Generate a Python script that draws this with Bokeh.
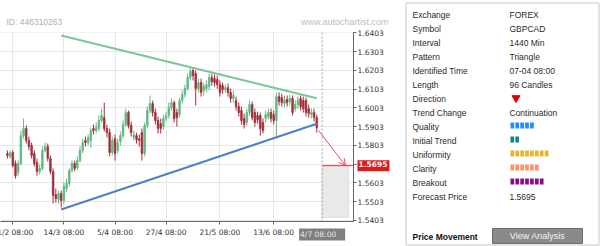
from bokeh.plotting import figure
from bokeh.layouts import row
from bokeh.models import Range1d, FixedTicker, Span, Label, Arrow, OpenHead, ColumnDataSource
from bokeh.core.properties import value
from bokeh.embed import file_html
from bokeh.resources import INLINE

# ---------------- data ----------------
opens = [1.5760,1.5744,1.5765,1.5706,1.5658,1.5706,1.5855,1.5893,1.5829,1.5802,
         1.5760,1.5712,1.5664,1.5680,1.5776,1.5797,1.5733,1.5664,1.5541,1.5514,
         1.5546,1.5509,1.5573,1.5600,1.5669,1.5706,1.5685,1.5722,1.5776,1.5829,
         1.5818,1.5829,1.5893,1.5882,1.5893,1.5936,1.5951,1.5893,1.5871,1.5765,
         1.5839,1.5776,1.5823,1.5855,1.5914,1.5978,1.5909,1.5845,1.5855,1.5839,
         1.5871,1.5760,1.5909,1.5989,1.6026,1.5978,1.5936,1.5919,1.5903,1.5946,
         1.5962,1.6005,1.6031,1.5978,1.5967,1.6042,1.6074,1.6106,1.6165,1.6202,
         1.6186,1.6106,1.6138,1.6096,1.6106,1.6117,1.6165,1.6159,1.6154,1.6127,
         1.6122,1.6101,1.6111,1.6085,1.6053,1.6042,1.6010,1.5989,1.5946,1.5925,
         1.5978,1.6021,1.5978,1.5962,1.5962,1.5925,1.5946,1.5957,1.5978,1.5967,
         1.5936,1.6063,1.6058,1.6026,1.6047,1.6037,1.6053,1.5999,1.6021,1.6053,
         1.6042,1.6042,1.5999,1.5967,1.5978,1.5951]
highs = [1.5776,1.5776,1.5776,1.5722,1.5722,1.5882,1.5946,1.5909,1.5850,1.5818,
         1.5776,1.5733,1.5701,1.5797,1.5818,1.5813,1.5749,1.5680,1.5573,1.5562,
         1.5562,1.5605,1.5626,1.5680,1.5722,1.5722,1.5744,1.5797,1.5839,1.5850,
         1.5861,1.5898,1.5914,1.5925,1.5962,1.5999,1.6031,1.5914,1.5893,1.5850,
         1.5861,1.5839,1.5877,1.5936,1.5999,1.5989,1.5930,1.5882,1.5871,1.5861,
         1.5893,1.5925,1.6010,1.6069,1.6042,1.5999,1.5957,1.5946,1.5967,1.5983,
         1.6031,1.6053,1.6042,1.5999,1.6058,1.6096,1.6127,1.6186,1.6218,1.6218,
         1.6202,1.6159,1.6159,1.6138,1.6149,1.6186,1.6186,1.6181,1.6175,1.6149,
         1.6138,1.6127,1.6133,1.6106,1.6096,1.6063,1.6031,1.6010,1.5973,1.5999,
         1.6042,1.6037,1.5999,1.5983,1.5978,1.5946,1.5989,1.5999,1.5999,1.5989,
         1.6085,1.6085,1.6079,1.6069,1.6069,1.6074,1.6069,1.6042,1.6063,1.6069,
         1.6063,1.6058,1.6021,1.5999,1.5999,1.5967]
lows = [1.5733,1.5733,1.5685,1.5626,1.5637,1.5696,1.5839,1.5813,1.5776,1.5733,
        1.5690,1.5642,1.5648,1.5669,1.5765,1.5717,1.5648,1.5493,1.5498,1.5493,
        1.5472,1.5488,1.5552,1.5584,1.5658,1.5664,1.5669,1.5712,1.5760,1.5797,
        1.5802,1.5791,1.5861,1.5866,1.5877,1.5925,1.5877,1.5845,1.5744,1.5749,
        1.5722,1.5760,1.5802,1.5839,1.5903,1.5893,1.5850,1.5829,1.5813,1.5797,
        1.5722,1.5744,1.5893,1.5973,1.5957,1.5914,1.5866,1.5866,1.5887,1.5930,
        1.5946,1.5989,1.5925,1.5903,1.5951,1.6026,1.6058,1.6096,1.6149,1.6149,
        1.6015,1.6085,1.6063,1.6069,1.6085,1.6096,1.6122,1.6117,1.6106,1.6063,
        1.6079,1.6085,1.6063,1.6031,1.6031,1.5989,1.5957,1.5914,1.5893,1.5909,
        1.5962,1.5936,1.5903,1.5919,1.5855,1.5866,1.5925,1.5941,1.5925,1.5914,
        1.5845,1.6015,1.6010,1.6005,1.6010,1.6015,1.5962,1.5983,1.5999,1.5989,
        1.5978,1.5957,1.5951,1.5946,1.5930,1.5871]
closes = [1.5749,1.5765,1.5696,1.5642,1.5706,1.5855,1.5893,1.5829,1.5797,1.5749,
          1.5706,1.5664,1.5680,1.5776,1.5797,1.5733,1.5664,1.5536,1.5520,1.5546,
          1.5509,1.5584,1.5600,1.5669,1.5706,1.5680,1.5722,1.5776,1.5818,1.5818,
          1.5845,1.5882,1.5882,1.5898,1.5936,1.5962,1.5893,1.5871,1.5765,1.5829,
          1.5760,1.5818,1.5855,1.5914,1.5978,1.5909,1.5871,1.5861,1.5834,1.5829,
          1.5760,1.5909,1.5989,1.6026,1.5978,1.5936,1.5893,1.5893,1.5946,1.5962,
          1.6005,1.6031,1.5946,1.5951,1.6042,1.6074,1.6106,1.6165,1.6197,1.6175,
          1.6106,1.6138,1.6085,1.6117,1.6127,1.6165,1.6143,1.6138,1.6127,1.6085,
          1.6101,1.6111,1.6085,1.6053,1.6069,1.6010,1.5978,1.5936,1.5914,1.5978,
          1.6021,1.5951,1.5925,1.5941,1.5893,1.5882,1.5967,1.5978,1.5946,1.5936,
          1.6063,1.6037,1.6031,1.6047,1.6031,1.6053,1.5978,1.6021,1.6042,1.6010,
          1.5999,1.5978,1.5973,1.5978,1.5951,1.5898]

tick_index = [2, 21, 40, 59, 79, 99]
tick_labels = ["21/2 08:00", "14/3 08:00", "5/4 08:00", "27/4 08:00", "21/5 08:00", "13/6 08:00"]
identified_index = 117
identified_label = "4/7 08:00"

price_ticks = [1.5403, 1.5503, 1.5603, 1.5703, 1.5803, 1.5903, 1.6003, 1.6103, 1.6203, 1.6303, 1.6403]
price_tick_labels = ["1.5403", "1.5503", "1.5603", "", "1.5803", "1.5903", "1.6003", "1.6103", "1.6203", "1.6303", "1.6403"]

upper_x = [20, 115]
upper_y = [1.6389, 1.6054]
lower_x = [20, 115]
lower_y = [1.5461, 1.5918]

arrow_start = (115.7, 1.5882)
arrow_end = (125.7, 1.5695)
forecast_price = 1.5695
forecast_box_x = (117.0, 126.8)
forecast_box_low = 1.5419

info_labels = ["Exchange", "Symbol", "Interval", "Pattern", "Identified Time", "Length",
               "Direction", "Trend Change", "Quality", "Initial Trend", "Uniformity",
               "Clarity", "Breakout", "Forecast Price"]
info_values = ["FOREX", "GBPCAD", "1440 Min", "Triangle", "07-04 08:00", "96 Candles",
               "", "Continuation", "", "", "", "", "", "1.5695"]
score_rows = [8, 9, 10, 11, 12]
score_values = [5, 2, 8, 6, 7]
score_colors = ["#1e8fff", "#15877c", "#e5b52e", "#ff9268", "#8a0c8c"]

# ---------------- chart ----------------
X0, X1 = -2.57, 128.66
Y0, Y1 = 1.5397, 1.6405
UP, DOWN = "#5cba84", "#a52d38"
HIDDEN = 120   # off-screen left strip that hosts the unclipped overlay labels

idx = list(range(len(opens)))
cols = [UP if c >= o else DOWN for o, c in zip(opens, closes)]
src = ColumnDataSource(dict(x=idx, o=opens, h=highs, l=lows, c=closes,
                            top=[max(o, c) for o, c in zip(opens, closes)],
                            bot=[min(o, c) for o, c in zip(opens, closes)],
                            col=cols))

p = figure(width=398 + HIDDEN, height=246, x_range=Range1d(X0, X1), y_range=Range1d(Y0, Y1),
           y_axis_location="right", output_backend="svg", toolbar_location=None,
           min_border_left=HIDDEN, min_border_right=45, min_border_top=32, min_border_bottom=25,
           margin=(0, 0, 0, -HIDDEN))
p.frame_align = False
p.outline_line_color = None
p.background_fill_color = "white"
p.border_fill_alpha = 0

p.xaxis.ticker = FixedTicker(ticks=tick_index)
p.xaxis.major_label_overrides = dict(zip(tick_index, tick_labels))
p.yaxis.ticker = FixedTicker(ticks=price_ticks)
p.yaxis.major_label_overrides = dict(zip(price_ticks, price_tick_labels))
for ax in (p.xaxis[0], p.yaxis[0]):
    ax.axis_line_color = "#666666"
    ax.major_tick_line_color = "#666666"
    ax.minor_tick_line_color = None
    ax.major_tick_in = 0
    ax.major_tick_out = 3
    ax.major_label_text_font = "DejaVu Sans"
    ax.major_label_text_font_size = "7.5px"
    ax.major_label_text_color = "#333333"
p.yaxis.major_label_standoff = 1
p.xaxis.major_label_standoff = 3
p.xgrid.grid_line_color = "#e6e6e6"
p.ygrid.grid_line_color = "#e6e6e6"

# forecast box
p.quad(left=[forecast_box_x[0]], right=[forecast_box_x[1]], top=[forecast_price],
       bottom=[forecast_box_low], fill_color="#e9e9e9", line_color="#e0e0e0")

p.add_layout(Span(location=identified_index, dimension="height", line_color="#a0a0a0",
                  line_dash="2 2", line_width=1))

# candles
p.segment(x0="x", y0="l", x1="x", y1="h", color="col", line_width=1, source=src)
p.vbar(x="x", width=0.6, top="top", bottom="bot", fill_color="col", line_color="col",
       line_width=0.7, source=src)

# triangle lines
p.line(upper_x, upper_y, line_color="#79c79a", line_width=2)
p.line(lower_x, lower_y, line_color="#4f80c4", line_width=2)

# forecast
RED = "#e45050"
p.segment(x0=[forecast_box_x[0]], y0=[forecast_price], x1=[X1], y1=[forecast_price],
          line_color="#e43a3a", line_width=1)
p.add_layout(Arrow(end=OpenHead(size=7, line_color=RED, line_width=1),
                   x_start=arrow_start[0], y_start=arrow_start[1],
                   x_end=arrow_end[0], y_end=arrow_end[1],
                   line_color=RED, line_width=1))

# texts outside the frame, hosted in side panels (so they are not clipped)
p.add_layout(Label(x=X1, y=forecast_price, text=f"{forecast_price:.4f}", x_offset=4,
                   text_baseline="middle", text_align="left", text_color="white",
                   text_font="DejaVu Sans", text_font_size="7.5px", text_font_style="bold",
                   background_fill_color="#e3161c", padding=(1, 2, 1, 4)), "left")
p.add_layout(Label(x=identified_index, y=Y0, text=identified_label, y_offset=-7,
                   text_baseline="top", text_align="center", text_color="#e6e6e6",
                   text_font="DejaVu Sans", text_font_size="7.5px",
                   background_fill_color="#808080", padding=(1, 9, 1, 2)), "left")
p.add_layout(Label(x=X0, y=Y1, text="ID: 446310263", x_offset=6, y_offset=11,
                   text_baseline="middle", text_align="left", text_color="#b0b0b0",
                   text_font="Liberation Sans", text_font_size="8.5px"), "above")
p.add_layout(Label(x=X1, y=Y1, text="www.autochartist.com", x_offset=35, y_offset=11,
                   text_baseline="middle", text_align="right", text_color="#bcbcbc",
                   text_font="Liberation Sans", text_font_size="9px"), "above")

# ---------------- info panel ----------------
q = figure(width=202, height=246, x_range=Range1d(0, 202), y_range=Range1d(246, 0),
           x_axis_type=None, y_axis_type=None, output_backend="svg", toolbar_location=None,
           min_border=0)
q.frame_align = False
q.outline_line_color = None
q.grid.visible = False

q.quad(left=[7.5], right=[200.5], top=[2.5], bottom=[244.5], fill_color=None, line_color="#c8c8c8")
row_y = [14 + 14 * i for i in range(len(info_labels))]
q.text(x=[14] * len(info_labels), y=row_y, text=info_labels, text_baseline="middle",
       text_font=value("Liberation Sans"), text_font_size="8.5px", text_color="#2a2a2a")
q.text(x=[111] * len(info_values), y=row_y, text=info_values, text_baseline="middle",
       text_font=value("Liberation Sans"), text_font_size="8.5px", text_color="#2a2a2a")

q.scatter(x=[117.5], y=[row_y[6] - 0.5], marker="inverted_triangle", size=8,
          color="#e00000")

bx, by, bc = [], [], []
for r, n, c in zip(score_rows, score_values, score_colors):
    for k in range(n):
        bx.append(113.8 + k * 4.9)
        by.append(row_y[r] - 1)
        bc.append(c)
q.rect(x=bx, y=by, width=3.7, height=6, fill_color=bc, line_color=None)

q.text(x=[14], y=[236], text=["Price Movement"], text_baseline="middle",
       text_font=value("Liberation Sans"), text_font_size="8.5px", text_font_style="bold",
       text_color="#111111")
q.quad(left=[94], right=[184], top=[228], bottom=[243], fill_color="#8a8a8a", line_color="#6c6c6c")
q.text(x=[139], y=[235.5], text=["View Analysis"], text_baseline="middle", text_align="center",
       text_font=value("Liberation Sans"), text_font_size="9px", text_color="#f4f4f4")

layout = row(p, q)
open("out.html", "w").write(file_html(layout, INLINE))
